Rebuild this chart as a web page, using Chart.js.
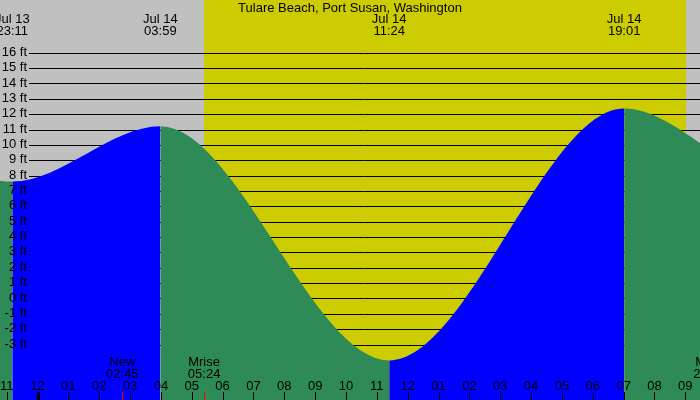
<!DOCTYPE html>
<html>
<head>
<meta charset="utf-8">
<script src="https://cdn.jsdelivr.net/npm/chart.js@4/dist/chart.umd.min.js"></script>
<style>
html,body{margin:0;padding:0;background:#c0c0c0;}
#c{display:block;}
</style>
</head>
<body>
<canvas id="c" width="700" height="400"></canvas>
<script>
const TITLE = 'Tulare Beach, Port Susan, Washington';

// tide extremes, hours from midnight Jul 14
const tideTimes   = [-13.2, -6.5, -0.817, 3.983, 11.4, 19.017, 24.0, 30.3];
const tideHeights = [-3.0, 11.6, 7.65, 11.25, -4.0, 12.4, 7.8, 11.2];
const tideDates   = ['Jul 13','Jul 13','Jul 13','Jul 14','Jul 14','Jul 14','Jul 15','Jul 15'];
const tideClock   = ['10:48','17:30','23:11','03:59','11:24','19:01','00:00','06:18'];

// sun up / down
const sunTimes = [5.40, 21.02];

// moon events
const moonTimes = [2.75, 5.4, 21.78];
const moonNames = ['New','Mrise','Mset'];
const moonClock = ['02:45','05:24','21:47'];

// axes
const hourTicks  = [-1,0,1,2,3,4,5,6,7,8,9,10,11,12,13,14,15,16,17,18,19,20,21];
const hourLabels = ['11','12','01','02','03','04','05','06','07','08','09','10','11','12','01','02','03','04','05','06','07','08','09'];
const ftTicks = [-3,-2,-1,0,1,2,3,4,5,6,7,8,9,10,11,12,13,14,15,16];

const X_MIN = -1.2156, X_MAX = 21.475;
const Y_MIN = -6.58, Y_MAX = 19.47;

const GRAY='#c0c0c0', YELLOW='#cccc00', BLUE='#0000ff', GREEN='#2e8b57';
const FONT = "13px 'Liberation Sans', Arial, sans-serif";

const tidePlugin = {
  id:'tide',
  beforeDraw(chart){
    const {ctx, width, height} = chart;
    const x = chart.scales.x;
    ctx.save();
    ctx.fillStyle = GRAY;
    ctx.fillRect(0,0,width,height);
    const x0 = x.getPixelForValue(sunTimes[0]), x1 = x.getPixelForValue(sunTimes[1]);
    ctx.fillStyle = YELLOW;
    ctx.fillRect(Math.round(x0),0,Math.round(x1)-Math.round(x0),height);
    ctx.restore();
  },
  beforeDatasetsDraw(chart){
    const {ctx, width} = chart;
    const y = chart.scales.y;
    ctx.save();
    ctx.strokeStyle='#000'; ctx.lineWidth=1;
    ftTicks.forEach(v=>{
      const py = Math.floor(y.getPixelForValue(v))+0.5;
      ctx.beginPath(); ctx.moveTo(29,py); ctx.lineTo(width,py); ctx.stroke();
    });
    ctx.restore();
  },
  afterDatasetsDraw(chart){
    const {ctx, width} = chart;
    const x = chart.scales.x, y = chart.scales.y;
    ctx.save();
    ctx.font = FONT;
    ctx.fillStyle = '#000';
    // y labels
    ctx.textAlign='right'; ctx.textBaseline='middle';
    ftTicks.forEach(v=>{
      ctx.fillText(v+' ft', 27, y.getPixelForValue(v)-1);
    });
    // title
    ctx.textAlign='center';
    ctx.fillText(TITLE, width/2, 8);
    // tide event labels
    tideTimes.forEach((t,i)=>{
      if (t < X_MIN-1 || t > X_MAX+1) return;
      const px = x.getPixelForValue(t);
      ctx.fillText(tideDates[i], px, 19);
      ctx.fillText(tideClock[i], px, 31);
    });
    // moon labels
    moonTimes.forEach((t,i)=>{
      const px = x.getPixelForValue(t);
      ctx.fillText(moonNames[i], px, 362);
      ctx.fillText(moonClock[i], px, 374);
      ctx.fillStyle='#ff0000';
      ctx.fillRect(Math.round(px),392,1,8);
      ctx.fillStyle='#000';
    });
    // hour ticks
    hourTicks.forEach((t,i)=>{
      const px = x.getPixelForValue(t);
      ctx.fillText(hourLabels[i], px, 386);
      if (t===0) ctx.fillRect(Math.round(px)-1,392,3,8);
      else ctx.fillRect(Math.round(px),392,1,8);
    });
    ctx.restore();
  }
};

new Chart(document.getElementById('c'), {
  type:'line',
  data:{
    datasets:[{
      data: tideTimes.map((t,i)=>({x:t, y:tideHeights[i]})),
      fill:'start',
      backgroundColor: GREEN,
      borderWidth:0,
      pointRadius:0,
      cubicInterpolationMode:'monotone',
      segment:{
        backgroundColor: c => c.p1.parsed.y > c.p0.parsed.y ? BLUE : GREEN
      }
    }]
  },
  options:{
    responsive:false,
    animation:false,
    layout:{padding:0},
    plugins:{legend:{display:false}, tooltip:{enabled:false}},
    scales:{
      x:{type:'linear', min:X_MIN, max:X_MAX, display:false},
      y:{min:Y_MIN, max:Y_MAX, display:false}
    }
  },
  plugins:[tidePlugin]
});
</script>
</body>
</html>
